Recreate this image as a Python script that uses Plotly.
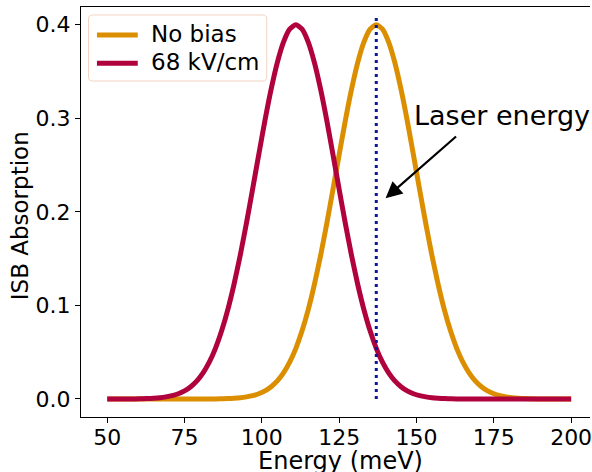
import plotly.graph_objects as go

# --- data ---
energy_nobias = [50, 85, 87, 89, 91, 93, 95, 97, 99, 101, 103, 105, 107, 109, 111, 113, 115,
                 117, 119, 121, 123, 125, 127, 129, 131, 133, 135, 137, 139, 141, 143, 145,
                 147, 149, 151, 153, 155, 157, 159, 161, 163, 165, 167, 169, 171, 173, 175,
                 177, 179, 181, 183, 185, 187, 189, 200]
absorb_nobias = [0.0, 0.0, 0.0002, 0.0004, 0.0008, 0.0013, 0.0022, 0.0035, 0.0056, 0.0086,
                 0.0131, 0.0193, 0.0279, 0.0393, 0.0541, 0.0728, 0.0955, 0.1225, 0.1534,
                 0.1876, 0.2240, 0.2612, 0.2976, 0.3310, 0.3596, 0.3815, 0.3953, 0.4000,
                 0.3953, 0.3815, 0.3596, 0.3310, 0.2976, 0.2612, 0.2240, 0.1876, 0.1534,
                 0.1225, 0.0955, 0.0728, 0.0541, 0.0393, 0.0279, 0.0193, 0.0131, 0.0086,
                 0.0056, 0.0035, 0.0022, 0.0013, 0.0008, 0.0004, 0.0002, 0.0, 0.0]

energy_bias = [50, 59, 61, 63, 65, 67, 69, 71, 73, 75, 77, 79, 81, 83, 85, 87, 89, 91, 93, 95,
               97, 99, 101, 103, 105, 107, 109, 111, 113, 115, 117, 119, 121, 123, 125, 127,
               129, 131, 133, 135, 137, 139, 141, 143, 145, 147, 149, 151, 153, 155, 157, 159,
               161, 163, 200]
absorb_bias = [0.0, 0.0, 0.0002, 0.0004, 0.0008, 0.0013, 0.0022, 0.0035, 0.0056, 0.0086,
               0.0131, 0.0193, 0.0279, 0.0393, 0.0541, 0.0728, 0.0955, 0.1225, 0.1534,
               0.1876, 0.2240, 0.2612, 0.2976, 0.3310, 0.3596, 0.3815, 0.3953, 0.4000,
               0.3953, 0.3815, 0.3596, 0.3310, 0.2976, 0.2612, 0.2240, 0.1876, 0.1534,
               0.1225, 0.0955, 0.0728, 0.0541, 0.0393, 0.0279, 0.0193, 0.0131, 0.0086,
               0.0056, 0.0035, 0.0022, 0.0013, 0.0008, 0.0004, 0.0002, 0.0, 0.0]

laser_energy = 137
laser_y = [0.0, 0.408]

series_names = ["No bias", "68 kV/cm"]
series_colors = ["#DB8F00", "#B0023C"]
x_ticks = [50, 75, 100, 125, 150, 175, 200]
y_ticks = [0.0, 0.1, 0.2, 0.3, 0.4]
y_tick_labels = ["0.0", "0.1", "0.2", "0.3", "0.4"]

arrow_tip = (140.0, 0.2146)
label_pos = (177.6, 0.3027)

FONT = "DejaVu Sans"
W, H = 592, 472
ML, MR, MT, MB = 81, 0, 7, 55
PW, PH = W - ML - MR, H - MT - MB


def px2paper_x(px):
    return (px - ML) / PW


def px2paper_y(py):
    return (H - MB - py) / PH


fig = go.Figure()
for xs, ys, name, col in [(energy_nobias, absorb_nobias, series_names[0], series_colors[0]),
                          (energy_bias, absorb_bias, series_names[1], series_colors[1])]:
    fig.add_trace(go.Scatter(x=xs, y=ys, mode="lines", name=name, showlegend=False,
                             line=dict(color=col, width=5, shape="spline", smoothing=0.6)))
fig.add_trace(go.Scatter(x=[laser_energy, laser_energy], y=laser_y, mode="lines",
                         showlegend=False,
                         line=dict(color="#0A1A96", width=3, dash="3px,4px")))

# arrow + label
fig.add_annotation(x=arrow_tip[0], y=arrow_tip[1], xref="x", yref="y", text="",
                   showarrow=True, ax=72, ay=-63, arrowhead=2, arrowsize=1.5,
                   arrowwidth=2.2, arrowcolor="black")
fig.add_annotation(x=label_pos[0], y=label_pos[1], xref="x", yref="y", text="Laser energy",
                   showarrow=False, font=dict(family=FONT, size=27, color="black"))

# legend box (rounded) drawn in paper coordinates
bx0, bx1, by0, by1, r = 88.5, 267.5, 15.0, 81.0, 4.0
def P(x, y):
    return f"{px2paper_x(x):.5f},{px2paper_y(y):.5f}"
path = (f"M {P(bx0 + r, by0)} L {P(bx1 - r, by0)} Q {P(bx1, by0)} {P(bx1, by0 + r)} "
        f"L {P(bx1, by1 - r)} Q {P(bx1, by1)} {P(bx1 - r, by1)} "
        f"L {P(bx0 + r, by1)} Q {P(bx0, by1)} {P(bx0, by1 - r)} "
        f"L {P(bx0, by0 + r)} Q {P(bx0, by0)} {P(bx0 + r, by0)} Z")
fig.add_shape(type="path", path=path, xref="paper", yref="paper",
              fillcolor="white", line=dict(color="#F2D3C3", width=1), layer="above")
rows_y = [35.0, 63.3]
for name, col, ry in zip(series_names, series_colors, rows_y):
    fig.add_shape(type="line", xref="paper", yref="paper",
                  x0=px2paper_x(97.0), x1=px2paper_x(138.0),
                  y0=px2paper_y(ry), y1=px2paper_y(ry),
                  line=dict(color=col, width=5), layer="above")
    fig.add_annotation(x=px2paper_x(149), y=px2paper_y(ry - 1.0), xref="paper", yref="paper",
                       text=name, showarrow=False, xanchor="left", yanchor="middle",
                       font=dict(family=FONT, size=23, color="black"))

# axis titles
fig.add_annotation(x=px2paper_x(342), y=px2paper_y(461), xref="paper", yref="paper",
                   text="Energy (meV)", showarrow=False, xanchor="center", yanchor="middle",
                   font=dict(family=FONT, size=24, color="black"))
fig.add_annotation(x=px2paper_x(20), y=px2paper_y(216), xref="paper", yref="paper",
                   text="ISB Absorption", showarrow=False, textangle=-90,
                   xanchor="center", yanchor="middle",
                   font=dict(family=FONT, size=23, color="black"))

fig.update_layout(
    width=W, height=H,
    margin=dict(l=ML, r=MR, t=MT, b=MB),
    paper_bgcolor="white", plot_bgcolor="white",
    font=dict(family=FONT, size=22, color="black"),
    showlegend=False,
    xaxis=dict(range=[41.53, 206.1], tickmode="array", tickvals=x_ticks,
               ticks="outside", ticklen=5, tickwidth=1, tickcolor="black",
               showline=True, linecolor="black", linewidth=1, mirror=True,
               showgrid=False, zeroline=False, ticklabeloverflow="allow",
               ticklabelstandoff=-4,
               tickfont=dict(family=FONT, size=22)),
    yaxis=dict(range=[-0.0193, 0.419], tickmode="array", tickvals=y_ticks,
               ticktext=y_tick_labels,
               ticks="outside", ticklen=5, tickwidth=1, tickcolor="black",
               showline=True, linecolor="black", linewidth=1,
               showgrid=False, zeroline=False,
               tickfont=dict(family=FONT, size=22)),
)

fig.write_html("out.html")
